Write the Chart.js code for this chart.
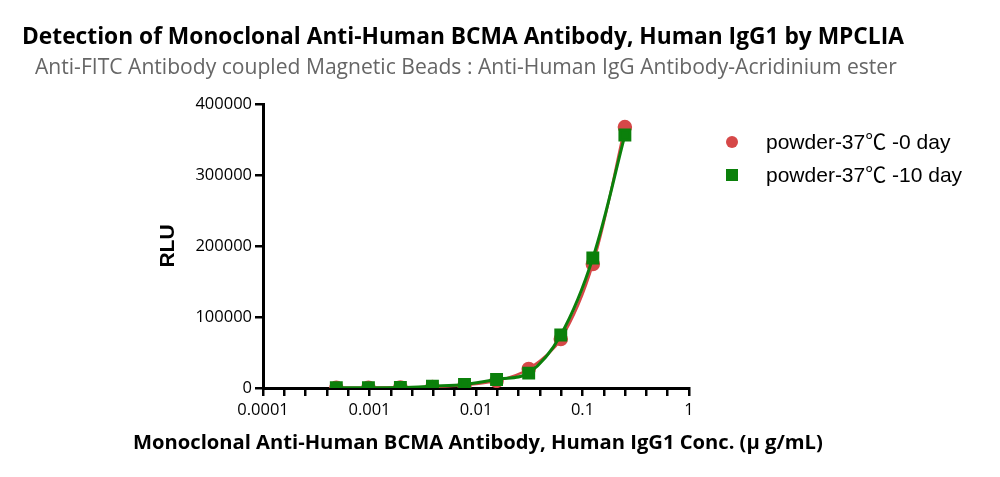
<!DOCTYPE html>
<html>
<head>
<meta charset="utf-8">
<script src="https://cdn.jsdelivr.net/npm/chart.js@4.4.0/dist/chart.umd.min.js"></script>
<style>
  html, body { margin: 0; padding: 0; background: #fff; }
  #wrap { width: 1000px; height: 477px; position: relative; }
</style>
</head>
<body>
<div id="wrap"><canvas id="bcmaChart" width="1000" height="477"></canvas></div>
<script>
// concentrations (ug/mL), two-fold dilution series
const concentrations = [0.000488, 0.000977, 0.00195, 0.0039, 0.0078, 0.0156, 0.03125, 0.0625, 0.125, 0.25];
const rluDay0 = [300, 500, 800, 1500, 4000, 10000, 26800, 69000, 174600, 367600];
const rluDay10 = [500, 500, 600, 2500, 5000, 12000, 21000, 74600, 183000, 356300];
const seriesLabels = ['powder-37\u2103 -0 day', 'powder-37\u2103 -10 day'];
const yTicks = [0, 100000, 200000, 300000, 400000];
const xDecades = [0.0001, 0.001, 0.01, 0.1, 1];

const titleText = 'Detection of Monoclonal Anti-Human BCMA Antibody, Human IgG1 by MPCLIA';
const subtitleText = 'Anti-FITC Antibody coupled Magnetic Beads : Anti-Human IgG Antibody-Acridinium ester';
const xTitle = 'Monoclonal Anti-Human BCMA Antibody, Human IgG1 Conc. (\u03bc g/mL)';
const yTitle = 'RLU';

const RED = '#d64848';
const GREEN = '#0b800b';
const TICK_FONT = '"Open Sans", sans-serif';

const toPoints = (ys) => concentrations.map((x, i) => ({ x: x, y: ys[i] }));

// fit text to a width by adjusting font size
function fitFont(ctx, text, weight, family, targetWidth) {
    ctx.font = weight + ' 20px ' + family;
    const w = ctx.measureText(text).width;
    return weight + ' ' + (20 * targetWidth / w).toFixed(2) + 'px ' + family;
}

const textPlugin = {
    id: 'textPlugin',
    afterDraw(chart) {
        const ctx = chart.ctx;
        ctx.save();
        ctx.textBaseline = 'middle';
        ctx.textAlign = 'left';
        ctx.fillStyle = '#000';
        ctx.font = fitFont(ctx, titleText, 'bold', '"Open Sans", sans-serif', 882);
        ctx.fillText(titleText, 22, 38);

        ctx.fillStyle = '#666';
        ctx.font = fitFont(ctx, subtitleText, 'normal', '"Open Sans", sans-serif', 862);
        ctx.fillText(subtitleText, 35, 68);

        ctx.fillStyle = '#000';
        ctx.font = fitFont(ctx, xTitle, 'bold', '"Open Sans", sans-serif', 690);
        ctx.fillText(xTitle, 133, 443);

        ctx.save();
        ctx.translate(168, 246);
        ctx.rotate(-Math.PI / 2);
        ctx.textAlign = 'center';
        ctx.font = 'bold 21px "Liberation Sans", Arial, sans-serif';
        ctx.fillText(yTitle, 0, 0);
        ctx.restore();

        // legend
        ctx.font = '21px "Liberation Sans", "Noto Sans CJK SC", sans-serif';
        chart.data.datasets.forEach((ds, i) => {
            const cy = 142 + i * 33;
            ctx.fillStyle = ds.pointBackgroundColor;
            if (ds.pointStyle === 'rect') {
                ctx.fillRect(726, cy - 6, 12, 12);
            } else {
                ctx.beginPath();
                ctx.arc(732, cy, 6, 0, Math.PI * 2);
                ctx.fill();
            }
            ctx.fillStyle = '#000';
            ctx.fillText(ds.label, 766, cy + 1);
        });
        ctx.restore();
    }
};

const ctx = document.getElementById('bcmaChart').getContext('2d');
new Chart(ctx, {
    type: 'line',
    data: {
        datasets: [
            {
                label: seriesLabels[0],
                data: toPoints(rluDay0),
                borderColor: RED,
                backgroundColor: RED,
                pointBackgroundColor: RED,
                pointBorderColor: RED,
                pointStyle: 'circle',
                pointRadius: 6,
                borderWidth: 2.5,
                tension: 0.35,
                fill: false,
                order: 1
            },
            {
                label: seriesLabels[1],
                data: toPoints(rluDay10),
                borderColor: GREEN,
                backgroundColor: GREEN,
                pointBackgroundColor: GREEN,
                pointBorderColor: GREEN,
                pointStyle: 'rect',
                pointRadius: 7,
                borderWidth: 3,
                tension: 0.35,
                fill: false,
                order: 0
            }
        ]
    },
    options: {
        responsive: false,
        animation: false,
        devicePixelRatio: 1,
        layout: { padding: { left: 0, top: 104, right: 311, bottom: 29 } },
        plugins: {
            legend: { display: false },
            title: { display: false },
            tooltip: { enabled: false }
        },
        scales: {
            x: {
                type: 'logarithmic',
                min: xDecades[0],
                max: xDecades[xDecades.length - 1],
                afterBuildTicks: (scale) => {
                    const ticks = [];
                    for (let d = 0; d < xDecades.length; d++) {
                        const steps = d === xDecades.length - 1 ? 1 : 5;
                        for (let s = 0; s < steps; s++) {
                            ticks.push({ value: xDecades[d] * Math.pow(10, s / 5), major: s === 0 });
                        }
                    }
                    scale.ticks = ticks;
                },
                afterFit: (scale) => { scale.height = 60; },
                border: { display: true, color: '#000', width: 3 },
                grid: {
                    drawOnChartArea: false,
                    drawTicks: true,
                    tickLength: 8,
                    color: '#000',
                    lineWidth: 2.5
                },
                ticks: {
                    autoSkip: false,
                    maxRotation: 0,
                    padding: 4,
                    color: '#000',
                    font: { family: TICK_FONT, size: 16.5 },
                    callback: (value) => {
                        const idx = xDecades.findIndex(d => Math.abs(d - value) / d < 1e-6);
                        return idx >= 0 ? String(xDecades[idx]) : '';
                    }
                }
            },
            y: {
                type: 'linear',
                min: yTicks[0],
                max: yTicks[yTicks.length - 1],
                afterBuildTicks: (scale) => {
                    scale.ticks = yTicks.map(v => ({ value: v }));
                },
                afterFit: (scale) => { scale.width = 263; },
                border: { display: true, color: '#000', width: 3 },
                grid: {
                    drawOnChartArea: false,
                    drawTicks: true,
                    tickLength: 8,
                    color: '#000',
                    lineWidth: 2.5
                },
                ticks: {
                    padding: 3,
                    color: '#000',
                    font: { family: TICK_FONT, size: 16.5 },
                    callback: (value) => String(value)
                }
            }
        }
    },
    plugins: [textPlugin]
});
</script>
</body>
</html>
